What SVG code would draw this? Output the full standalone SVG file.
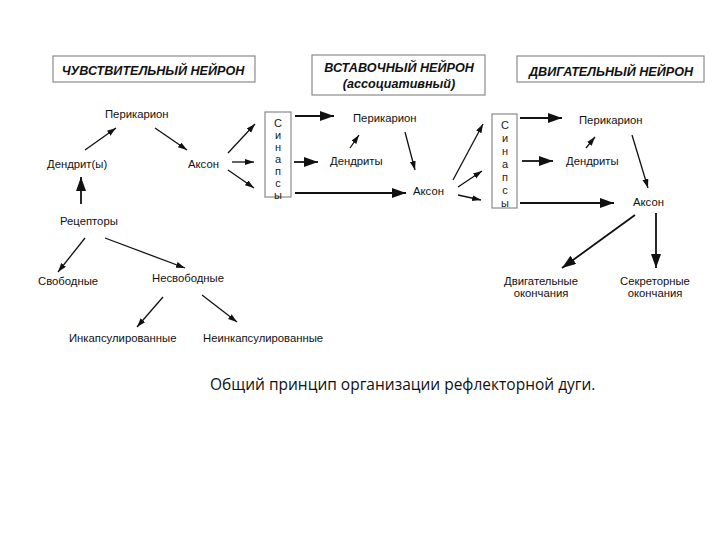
<svg xmlns="http://www.w3.org/2000/svg" width="720" height="540" viewBox="0 0 720 540">
<style>
text{font-family:"Liberation Sans",Arial,sans-serif;fill:#111;}
.t{font-size:11.3px;}
.h{font-size:12.6px;font-weight:bold;font-style:italic;text-anchor:middle;}
.s{font-size:11.5px;fill:#222;writing-mode:vertical-rl;text-orientation:upright;}
.hb{fill:#fff;stroke:#8a8a8a;stroke-width:1.2;}
.sb{fill:#fff;stroke:#8a8a8a;stroke-width:1.2;}
.a1{stroke:#111;stroke-width:1.3;fill:none;marker-end:url(#sm);}
.a2{stroke:#111;stroke-width:1.8;fill:none;marker-end:url(#bg);}
.cap{font-family:"Open Sans","DejaVu Sans",sans-serif;font-size:15.5px;}
</style>
<defs>
<marker id="sm" markerUnits="userSpaceOnUse" markerWidth="10" markerHeight="8" refX="9" refY="3" orient="auto"><path d="M0,0 L9,3 L0,6 z" fill="#111"/></marker>
<marker id="bg" markerUnits="userSpaceOnUse" markerWidth="16" markerHeight="12" refX="14" refY="5" orient="auto"><path d="M0,0 L14,5 L0,10 z" fill="#111"/></marker>
</defs>
<rect width="720" height="540" fill="#fff"/>

<g id="hdr-sensory"><rect class="hb" x="53" y="56" width="202" height="26"/><text class="h" x="153" y="75">ЧУВСТВИТЕЛЬНЫЙ НЕЙРОН</text></g>
<g id="hdr-inter"><rect class="hb" x="312" y="55" width="173" height="40"/><text class="h" x="399" y="72">ВСТАВОЧНЫЙ НЕЙРОН</text><text class="h" x="399" y="88">(ассоциативный)</text></g>
<g id="hdr-motor"><rect class="hb" x="517" y="56" width="187" height="26"/><text class="h" x="611" y="76">ДВИГАТЕЛЬНЫЙ НЕЙРОН</text></g>

<g id="s-perikarion"><text class="t" x="105" y="118">Перикарион</text></g>
<g id="s-dendrit"><text class="t" x="47" y="168">Дендрит(ы)</text></g>
<g id="s-axon"><text class="t" x="188" y="168">Аксон</text></g>
<g id="receptors"><text class="t" x="60" y="225">Рецепторы</text></g>
<g id="free"><text class="t" x="38" y="285">Свободные</text></g>
<g id="nonfree"><text class="t" x="152" y="282">Несвободные</text></g>
<g id="encaps"><text class="t" x="69" y="342">Инкапсулированные</text></g>
<g id="nonencaps"><text class="t" x="203" y="342">Неинкапсулированные</text></g>

<g id="synapse1"><rect class="sb" x="265" y="112" width="26" height="85"/>
<text class="s" x="278" y="117" style="font-size:11px">Синапсы</text></g>

<g id="i-perikarion"><text class="t" x="353" y="122">Перикарион</text></g>
<g id="i-dendrity"><text class="t" x="330" y="165">Дендриты</text></g>
<g id="i-axon"><text class="t" x="413" y="195">Аксон</text></g>

<g id="synapse2"><rect class="sb" x="492" y="114" width="25" height="94"/>
<text class="s" x="505" y="119" style="font-size:11px;letter-spacing:1px">Синапсы</text></g>

<g id="m-perikarion"><text class="t" x="579" y="124">Перикарион</text></g>
<g id="m-dendrity"><text class="t" x="566" y="165">Дендриты</text></g>
<g id="m-axon"><text class="t" x="633" y="206">Аксон</text></g>
<g id="motor-end"><text class="t" x="541" y="285" text-anchor="middle">Двигательные</text><text class="t" x="541" y="297" text-anchor="middle">окончания</text></g>
<g id="secret-end"><text class="t" x="655" y="285" text-anchor="middle">Секреторные</text><text class="t" x="655" y="297" text-anchor="middle">окончания</text></g>

<g id="caption"><text class="cap" x="210" y="390">Общий принцип организации рефлекторной дуги.</text></g>

<g id="connectors">
<line class="a1" x1="85" y1="150" x2="116" y2="128"/>
<line class="a1" x1="155" y1="128" x2="187" y2="150"/>
<line class="a2" x1="81" y1="204" x2="81" y2="177"/>
<line class="a1" x1="228" y1="153" x2="255" y2="124"/>
<line class="a1" x1="232" y1="162" x2="254" y2="162"/>
<line class="a1" x1="228" y1="170" x2="254" y2="188"/>
<line class="a1" x1="85" y1="238" x2="58" y2="272"/>
<line class="a1" x1="105" y1="238" x2="185" y2="268"/>
<line class="a1" x1="163" y1="297" x2="137" y2="327"/>
<line class="a1" x1="202" y1="295" x2="237" y2="322"/>

<line class="a2" x1="295" y1="116" x2="334" y2="116"/>
<line class="a2" x1="294" y1="162" x2="318" y2="162"/>
<line class="a2" x1="295" y1="193" x2="406" y2="193"/>
<line class="a1" x1="350" y1="148" x2="359" y2="135"/>
<line class="a1" x1="405" y1="132" x2="415" y2="170"/>
<line class="a1" x1="453" y1="180" x2="483" y2="124"/>
<line class="a1" x1="458" y1="187" x2="482" y2="171"/>
<line class="a1" x1="458" y1="195" x2="481" y2="200"/>

<line class="a2" x1="520" y1="118" x2="562" y2="118"/>
<line class="a2" x1="522" y1="161" x2="553" y2="161"/>
<line class="a2" x1="520" y1="203" x2="614" y2="203"/>
<line class="a1" x1="586" y1="148" x2="595" y2="137"/>
<line class="a1" x1="632" y1="135" x2="648" y2="188"/>
<line class="a2" x1="635" y1="215" x2="562" y2="268"/>
<line class="a2" x1="656" y1="213" x2="656" y2="268"/>
</g>
</svg>
